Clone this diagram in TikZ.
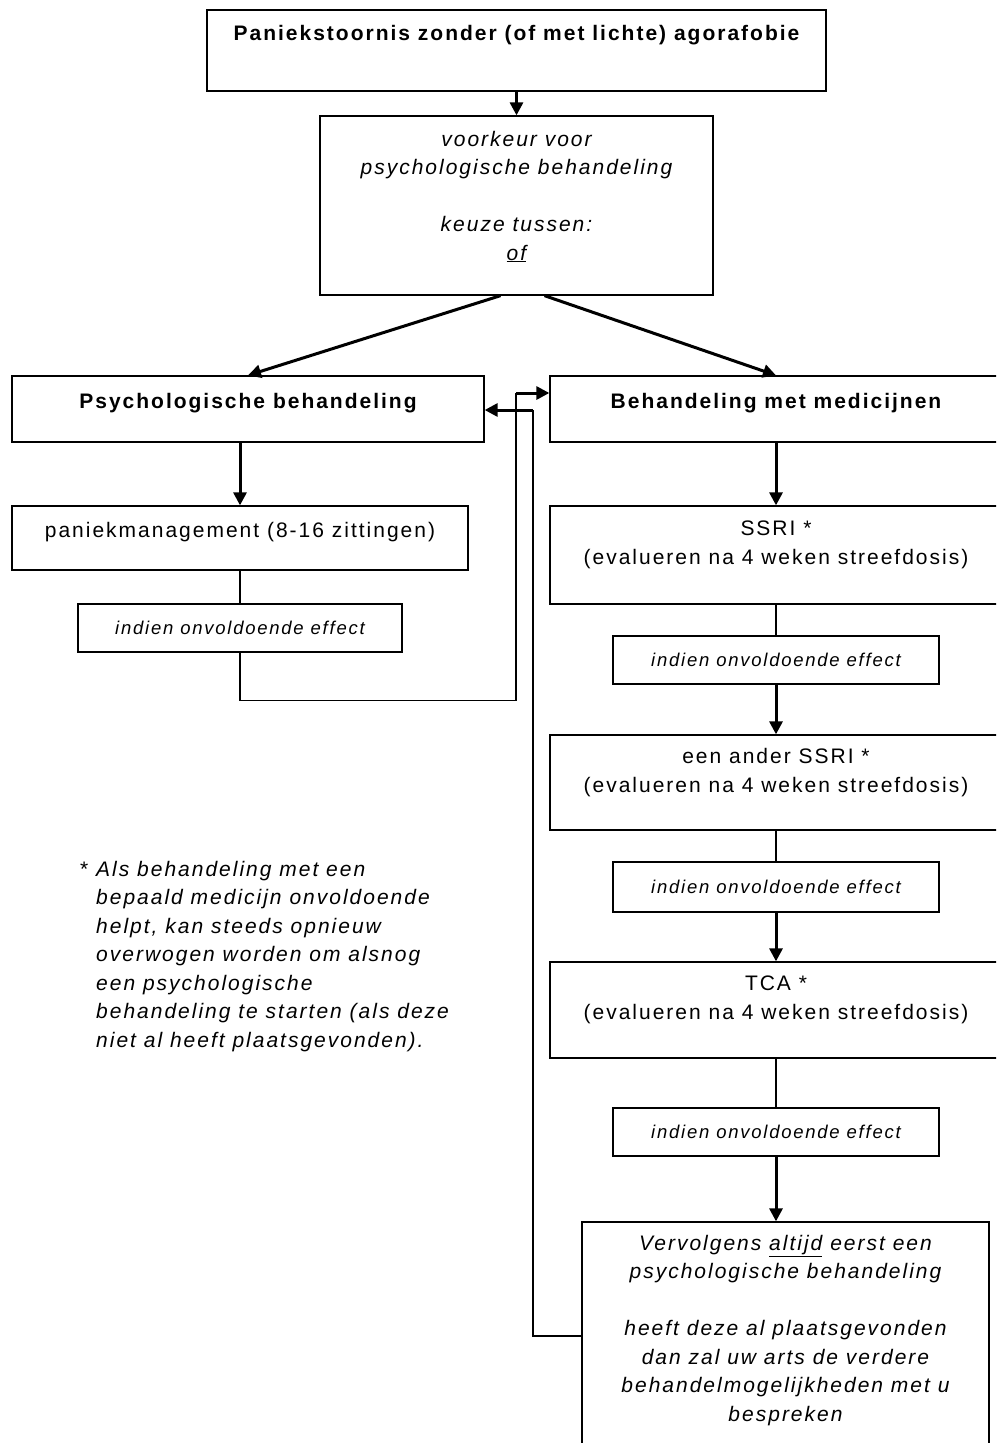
\documentclass[tikz,border=0pt]{standalone}
\usepackage{fontspec}
\setmainfont{Liberation Sans}[LetterSpace=9.5]
\usetikzlibrary{arrows.meta}

\tikzset{
  flowbox/.style={draw, line width=1.3pt, inner sep=0pt, align=center,
    font=\fontsize{21pt}{28.5pt}\selectfont},
  headbox/.style={flowbox, font=\fontsize{21pt}{28.5pt}\selectfont\bfseries},
  ifbox/.style={flowbox, minimum width=326pt, minimum height=48pt,
    font=\fontsize{18.5pt}{24pt}\selectfont\itshape},
  arr/.style={-{Triangle[length=13pt,width=13pt]}, line width=3pt},
  line/.style={line width=1.3pt},
}

\begin{document}
\begin{tikzpicture}[x=1pt, y=-1pt]
    \useasboundingbox (0,0) rectangle (996,1443);
    \clip (0,0) rectangle (996,1443);

    % top of the chart
    \node[headbox, minimum width=619pt, text height=30pt, text depth=51pt] (diag) at (516.5,50.5)
        {Paniekstoornis zonder (of met lichte) agorafobie};
    \node[flowbox, minimum width=393pt, text height=144pt, text depth=35pt, font=\fontsize{21pt}{28.5pt}\selectfont\itshape] (pref) at (516.5,205.5)
        {voorkeur voor\\psychologische behandeling\\[28.5pt]keuze tussen:\\\underline{of}};

    % left branch
    \node[headbox, minimum width=472pt, text height=32pt, text depth=34pt] (psych) at (248,409) {Psychologische behandeling};
    \node[flowbox, minimum width=456pt, text height=31pt, text depth=33pt] (panic) at (240,538) {paniekmanagement (8-16 zittingen)};
    \node[ifbox, minimum width=324pt] (ifL) at (240,628) {indien onvoldoende effect};

    % right branch
    \node[headbox, minimum width=452pt, text height=32pt, text depth=34pt] (meds) at (776,409) {Behandeling met medicijnen};
    \node[flowbox, minimum width=452pt, text height=58pt, text depth=40pt] (ssri) at (776,555)
        {SSRI *\\(evalueren na 4 weken streefdosis)};
    \node[ifbox] (ifA) at (776,660) {indien onvoldoende effect};
    \node[flowbox, minimum width=452pt, text height=57pt, text depth=38pt] (ssriB) at (776,782.5)
        {een ander SSRI *\\(evalueren na 4 weken streefdosis)};
    \node[ifbox, minimum height=50pt] (ifB) at (776,887) {indien onvoldoende effect};
    \node[flowbox, minimum width=452pt, text height=57pt, text depth=39pt] (tca) at (776,1010)
        {TCA *\\(evalueren na 4 weken streefdosis)};
    \node[ifbox] (ifC) at (776,1132) {indien onvoldoende effect};
    \node[flowbox, minimum width=407pt, text height=199pt, text depth=29pt, font=\fontsize{21pt}{28.5pt}\selectfont\itshape] (next) at (785.5,1336)
        {Vervolgens \underline{altijd} eerst een\\psychologische behandeling\\[28.5pt]heeft deze al plaatsgevonden\\dan zal uw arts de verdere\\behandelmogelijkheden met u\\bespreken};

    % footnote
    \node[anchor=base west, inner sep=0pt, align=left, font=\fontsize{21pt}{28.5pt}\selectfont\itshape] (note) at (80,1047)
        {\textup{*} Als behandeling met een\\
         \phantom{* }bepaald medicijn onvoldoende\\
         \phantom{* }helpt, kan steeds opnieuw\\
         \phantom{* }overwogen worden om alsnog\\
         \phantom{* }een psychologische\\
         \phantom{* }behandeling te starten (als deze\\
         \phantom{* }niet al heeft plaatsgevonden).};

    % connectors
    \draw[arr] (diag.south) -- (pref.north);
    \draw[arr] ([xshift=-16pt]pref.south) -- (psych.north);
    \draw[arr] ([xshift=28pt]pref.south) -- (meds.north);
    \draw[arr] (panic.north|-psych.south) -- (panic.north);
    \draw[line] (panic.south) -- (ifL.north);

    \coordinate (toMeds) at (516,393);
    \coordinate (toPsych) at (533,410);
    \draw[line] (ifL.south) -- ++(0,48) -| (toMeds);
    \draw[arr] (toMeds) -- (toMeds-|meds.west);
    \draw[line] (next.west) -| (toPsych);
    \draw[arr] (toPsych) -- (toPsych-|psych.east);

    \draw[arr] (meds.south) -- (ssri.north);
    \draw[line] (ssri.south) -- (ifA.north);
    \draw[arr] (ifA.south) -- (ssriB.north);
    \draw[line] (ssriB.south) -- (ifB.north);
    \draw[arr] (ifB.south) -- (tca.north);
    \draw[line] (tca.south) -- (ifC.north);
    \draw[arr] (ifC.south) -- (ifC.south|-next.north);
\end{tikzpicture}
\end{document}
